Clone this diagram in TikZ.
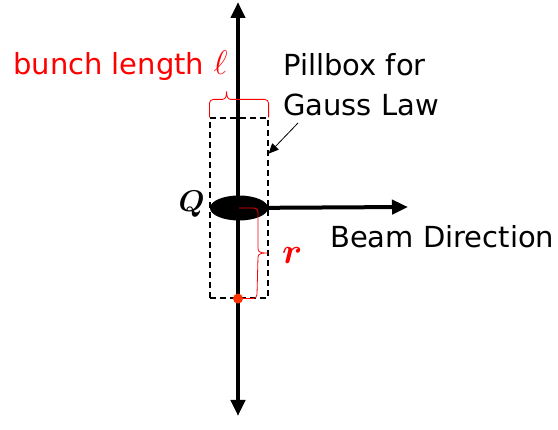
\RequirePackage{fix-cm}
\documentclass[tikz,border=0pt]{standalone}
\usepackage{fontspec}
\setmainfont{DejaVu Sans}
\usepackage{amsmath}
\usepackage{bm}
\usetikzlibrary{arrows.meta,shapes.geometric,positioning,calc}

\definecolor{dotred}{RGB}{255,51,0}

\begin{document}
\begin{tikzpicture}[
    x=1pt, y=1pt,
    axis/.style={line width=4pt},
    pillbox/.style={rectangle, draw, dash pattern=on 6pt off 4pt, line width=1.2pt, minimum width=58pt, minimum height=180pt, inner sep=0pt},
    bunchshape/.style={ellipse, fill=black, minimum width=58pt, minimum height=25pt, inner sep=0pt},
    bracered/.style={red, line width=0.8pt},
    txt/.style={font=\fontsize{29}{40}\selectfont, inner sep=0pt, align=left},
    pointer/.style={-{Triangle[length=10pt,width=9pt]}, line width=0.8pt}
]
    \useasboundingbox (0,0) rectangle (558,430);

    % axes
    \coordinate (top) at (238,428);
    \coordinate (bottom) at (238,14);
    \coordinate (beamend) at (408,223);
    \draw[axis, {Triangle[length=16pt,width=14pt]}-{Triangle[length=16pt,width=14pt]}] (bottom) -- (top);

    \node[pillbox] (box) at (239,222) {};
    \node[bunchshape] (bunch) at (239,222) {};
    \draw[axis, -{Triangle[length=16pt,width=14pt]}] (bunch.center) -- (beamend);

    \node[circle, fill=dotred, minimum size=10pt, inner sep=0pt] (edge) at (box.south -| top) {};

    % labels
    \node[anchor=base east, inner sep=0pt, font=\fontsize{30}{34}\selectfont] (charge) at (205,218) {$\bm{Q}$};
    \node[txt, anchor=base west] (beamlabel) at (330,182) {Beam Direction};
    \node[txt, anchor=north west] (pilltext) at (283,377) {Pillbox for\\Gauss Law};
    \node[txt, red, anchor=base west] (lenlabel) at (13,355) {bunch length {\fontsize{34}{36}\selectfont$\ell$}};
    \node[red, anchor=base west, inner sep=0pt, font=\fontsize{36}{40}\selectfont] (rlabel) at (282,166) {$\bm{r}$};

    \coordinate (pillfrom) at (298,307);
    \coordinate (pillto) at ($(box.north east)!0.2!(box.south east)$);
    \draw[pointer] (pillfrom) -- (pillto);

    % brace for the bunch length
    \coordinate (ltip) at ($(box.north west)!0.29!(box.north east)+(0,26)$);
    \draw[bracered] (box.north west) -- ++(0,14) to[out=90,in=180] ++(4,4)
        -- ($(ltip)+(-4,-8)$) to[out=0,in=-90] (ltip) to[out=-90,in=180] ($(ltip)+(4,-8)$)
        -- ($(box.north east)+(-4,18)$) to[out=0,in=90] ($(box.north east)+(0,14)$) -- (box.north east);

    % brace for the radius
    \coordinate (rtip) at (268,177);
    \draw[bracered] (bunch.center) -- ++(15,0) to[out=0,in=90] ++(4,-4)
        -- ($(rtip)+(-10,4)$) to[out=-90,in=180] (rtip) to[out=180,in=90] ($(rtip)+(-10,-4)$)
        -- ($(edge.center)+(19,4)$) to[out=-90,in=0] ($(edge.center)+(15,0)$) -- (edge.east);
\end{tikzpicture}
\end{document}
